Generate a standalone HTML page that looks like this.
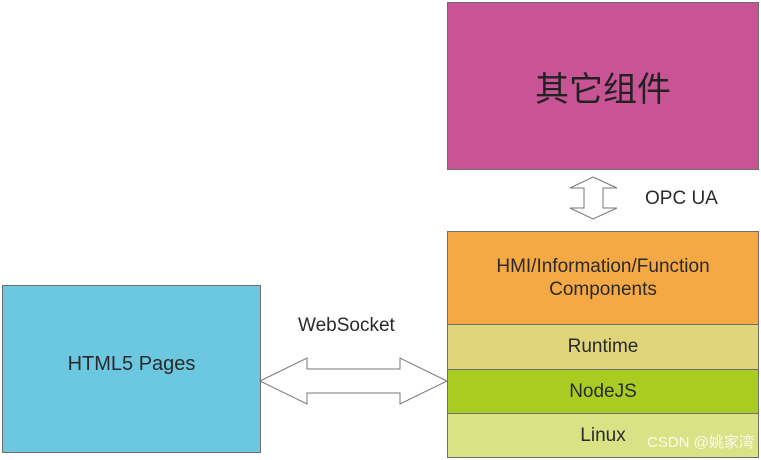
<!DOCTYPE html>
<html><head><meta charset="utf-8"><style>
body{margin:0;width:761px;height:460px;background:#fff;position:relative;font-family:"Liberation Sans","Noto Sans CJK SC",sans-serif;color:#2a2a2a;overflow:hidden}
.b{position:absolute;box-sizing:border-box;border:1px solid #6e6e6e;display:flex;align-items:center;justify-content:center;text-align:center}
.t{position:absolute;font-size:19px}
</style></head><body>
<div class="b" style="left:447px;top:2px;width:312px;height:168px;background:#c85496;font-size:34px;color:#222">其它组件</div>
<div class="b" style="left:447px;top:231px;width:312px;height:94px;background:#f5a945;font-size:19px;line-height:23px">HMI/Information/Function<br>Components</div>
<div class="b" style="left:447px;top:324px;width:312px;height:46px;background:#e0d57a;font-size:19px">Runtime</div>
<div class="b" style="left:447px;top:369px;width:312px;height:45px;background:#a9cc23;font-size:19px">NodeJS</div>
<div class="b" style="left:447px;top:413px;width:312px;height:45px;background:#d9e385;font-size:19px">Linux</div>
<div class="b" style="left:2px;top:285px;width:259px;height:168px;background:#6cc8e0;font-size:20px;padding-bottom:10px">HTML5 Pages</div>
<div class="t" style="left:645px;top:188px">OPC UA</div>
<div class="t" style="left:298px;top:315px">WebSocket</div>
<div class="t" style="left:647px;top:431px;font-size:15px;color:#fff;opacity:.85">CSDN @姚家湾</div>
<svg width="761" height="460" style="position:absolute;left:0;top:0">
<polygon points="260,381 307,358 307,369 400,369 400,358 447,381 400,404 400,393 307,393 307,404" fill="#fff" stroke="#777" stroke-width="1"/>
<polygon points="593,177 617,188 603,188 603,208 617,208 593,219 570,208 584,208 584,188 570,188" fill="#fff" stroke="#777" stroke-width="1"/>
</svg>
</body></html>
